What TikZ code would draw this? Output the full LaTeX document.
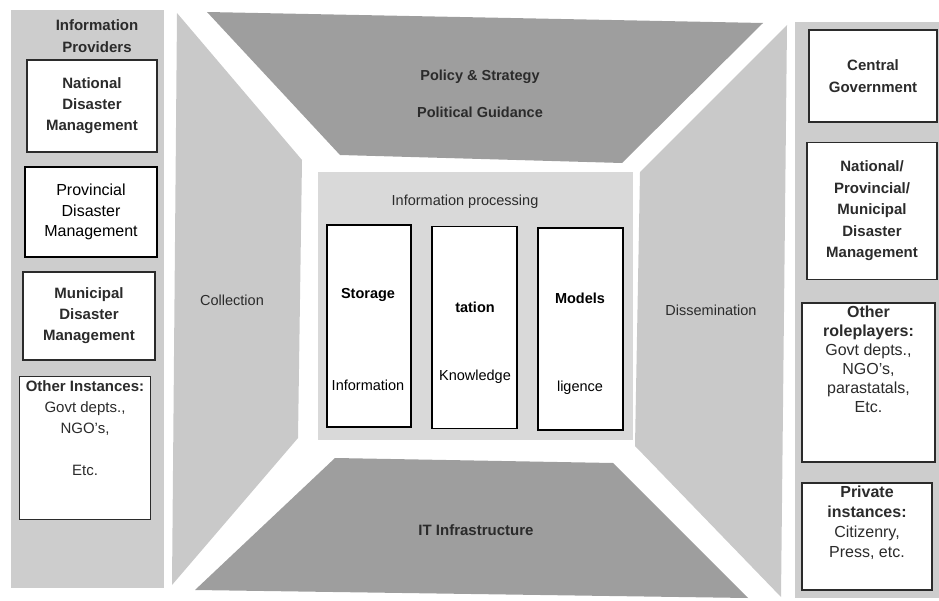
\documentclass[tikz,border=0pt]{standalone}
\usepackage{fontspec}
\setmainfont{Liberation Sans}
\usetikzlibrary{positioning}
\definecolor{trapdark}{HTML}{9E9E9E}
\definecolor{traplight}{HTML}{C9C9C9}
\definecolor{panelgrey}{HTML}{CDCDCD}
\definecolor{procgrey}{HTML}{D9D9D9}
\definecolor{inkgrey}{HTML}{2B2B2B}

\begin{document}
\begin{tikzpicture}[x=1pt, y=-1pt,
    panelbox/.style = {draw=inkgrey, line width=1.3pt, fill=white, align=center, inner sep=0pt, font=\fontsize{15}{21}\selectfont},
    boxtext/.style = {align=center, inner sep=2pt, font=\fontsize{15}{21}\selectfont},
    procbox/.style = {draw=black, line width=1.4pt, fill=white, minimum width=84pt, minimum height=202pt},
    proctext/.style = {font=\fontsize{14.5}{17}\selectfont},
    shapetext/.style = {text=inkgrey, font=\fontsize{14.5}{17}\selectfont}]
    \useasboundingbox (0,0) rectangle (939,601);

    % grey background shapes
    \fill[panelgrey] (11,10) rectangle (164,588);
    \fill[panelgrey] (795,22) rectangle (939,598);
    \fill[trapdark] (207,12) -- (763,23) -- (622,163) -- (340,155) -- cycle;
    \fill[trapdark] (335,458) -- (613,463) -- (748,598) -- (195,590) -- cycle;
    \fill[traplight] (177,13) -- (302,160) -- (298,438) -- (172,585) -- cycle;
    \fill[traplight] (787,25) -- (640,172) -- (635,446) -- (781,597) -- cycle;
    \fill[procgrey] (318,172) rectangle (633,440);

    \node[shapetext, font=\fontsize{14.5}{17}\selectfont\bfseries] (policy) at (480,77) {Policy \& Strategy};
    \node[shapetext, font=\fontsize{14.5}{17}\selectfont\bfseries] (guidance) at (480,112) {Political Guidance};
    \node[shapetext, font=\fontsize{15}{17}\selectfont\bfseries] (infra) at (476,530) {IT Infrastructure};
    \node[shapetext] (collect) at (232,300) {Collection};
    \node[shapetext] (dissem) at (711,310) {Dissemination};

    % information providers
    \node[boxtext, text=inkgrey, font=\fontsize{15}{22}\selectfont\bfseries] (providers) at (97,36) {Information\\Providers};
    \node[panelbox, minimum width=130pt, minimum height=92pt, text=inkgrey, font=\fontsize{15}{21}\selectfont\bfseries] (national) at (92,106) {National\\Disaster\\Management};
    \node[panelbox, minimum width=132pt, minimum height=90pt, draw=black, font=\fontsize{16}{20.5}\selectfont] (provincial) at (91,212) {Provincial\\Disaster\\Management};
    \node[panelbox, minimum width=132pt, minimum height=88pt, text=inkgrey, font=\fontsize{15}{21}\selectfont\bfseries] (municipal) at (89,316) {Municipal\\Disaster\\Management};
    \node[panelbox, minimum width=131pt, minimum height=143pt] (instances) at (85,448) {};
    \node[boxtext, text=inkgrey, below=3pt of instances.north] (instancesText) {\textbf{Other Instances:}\\Govt depts.,\\NGO's,\\[21pt]Etc.};

    % information processing
    \node[shapetext] (processing) at (465,202) {Information processing};
    \node[procbox] (storage) at (369,326) {};
    \node[procbox, minimum width=85pt] (tation) at (474.5,327.5) {};
    \node[procbox, minimum width=85pt] (models) at (580.5,329) {};
    \node[proctext, font=\fontsize{14.5}{17}\selectfont\bfseries] (storageTop) at (368,295) {Storage};
    \node[proctext] (storageLow) at (368,385) {Information};
    \node[proctext, font=\fontsize{14.5}{17}\selectfont\bfseries] (tationTop) at (475,307) {tation};
    \node[proctext] (tationLow) at (475,377) {Knowledge};
    \node[proctext, font=\fontsize{14.5}{17}\selectfont\bfseries] (modelsTop) at (580,298) {Models};
    \node[proctext] (modelsLow) at (580,388) {ligence};

    % information users
    \node[panelbox, minimum width=128pt, minimum height=92pt, text=inkgrey, font=\fontsize{15}{22}\selectfont\bfseries] (central) at (873,76) {Central\\Government};
    \node[panelbox, minimum width=130pt, minimum height=137pt, text=inkgrey, font=\fontsize{15}{21.5}\selectfont\bfseries] (dmgmt) at (872,211) {National/\\Provincial/\\Municipal\\Disaster\\Management};
    \node[panelbox, minimum width=133pt, minimum height=159pt] (roles) at (868.5,382.5) {};
    \node[boxtext, text=inkgrey, font=\fontsize{16}{19}\selectfont, below=1pt of roles.north] (rolesText) {\textbf{Other}\\\textbf{roleplayers:}\\Govt depts.,\\NGO's,\\parastatals,\\Etc.};
    \node[panelbox, minimum width=130pt, minimum height=107pt] (private) at (867,536.5) {};
    \node[boxtext, text=inkgrey, font=\fontsize{16}{20}\selectfont, below=1pt of private.north] (privateText) {\textbf{Private}\\\textbf{instances:}\\Citizenry,\\Press, etc.};

\end{tikzpicture}
\end{document}
